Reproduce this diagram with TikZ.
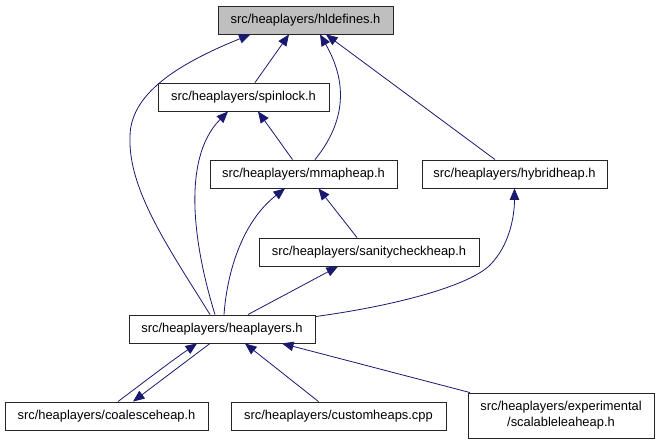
\documentclass[tikz,border=0pt]{standalone}
\usepackage{fontspec}
\setmainfont{Liberation Sans}
\usetikzlibrary{arrows.meta}
\definecolor{edgeblue}{HTML}{191970}
\definecolor{hlgray}{HTML}{BFBFBF}
\begin{document}
\begin{tikzpicture}[x=1pt,y=-1pt,
  box/.style={draw=black!85,line width=0.9pt,fill=white,minimum height=28pt,inner sep=0pt,
    font=\fontsize{12.9}{15}\selectfont,align=center},
  edge/.style={draw=edgeblue,line width=0.8pt,-{Triangle[length=11.5pt,width=9.5pt]}}]
\useasboundingbox (0,0) rectangle (659,445);
\fill[white] (0,0) rectangle (659,445);
% nodes
\node[box,fill=hlgray,minimum width=175pt] (hl) at (305.5,20) {src/heaplayers/hldefines.h};
\node[box,minimum width=171pt] (sp) at (243.5,97) {src/heaplayers/spinlock.h};
\node[box,minimum width=187pt] (mm) at (303.5,174) {src/heaplayers/mmapheap.h};
\node[box,minimum width=185pt] (hy) at (514.5,174) {src/heaplayers/hybridheap.h};
\node[box,minimum width=220pt] (sc) at (369,252) {src/heaplayers/sanitycheckheap.h};
\node[box,minimum width=186pt] (hp) at (222,329) {src/heaplayers/heaplayers.h};
\node[box,minimum width=203pt] (co) at (106.5,416) {src/heaplayers/coalesceheap.h};
\node[box,minimum width=215pt] (cu) at (338.5,416) {src/heaplayers/customheaps.cpp};
\node[box,minimum width=186pt,minimum height=45pt,font=\fontsize{12.9}{16}\selectfont] (sl) at (561,415.5) {src/heaplayers/experimental\\/scalableleaheap.h};
% edges
\draw[edge] ([xshift=-12pt]hp.north) .. controls (170,250) and (128,190) .. (130,137)
   .. controls (130,95) and (175,65) .. ([xshift=-55pt]hl.south);
\draw[edge] ([xshift=11.5pt]sp.north) -- ([xshift=-16.5pt]hl.south);
\draw[edge] ([xshift=11.5pt]mm.north) .. controls (335,135) and (355,95) .. ([xshift=14.5pt]hl.south);
\draw[edge] ([xshift=-19.5pt]hy.north) -- ([xshift=20.5pt]hl.south);
\draw[edge] ([xshift=-7pt]hp.north) .. controls (195,250) and (180,160) .. ([xshift=-15.5pt]sp.south);
\draw[edge] ([xshift=-11pt]mm.north) -- ([xshift=14.5pt]sp.south);
\draw[edge] ([xshift=2pt]hp.north) .. controls (228,262) and (247,218) .. ([xshift=-18.5pt]mm.south);
\draw[edge] ([xshift=-12pt]sc.north) -- ([xshift=15pt]mm.south);
\draw[edge] ([xshift=26pt]hp.north) -- ([xshift=-31pt]sc.south);
\draw[edge] ([yshift=-2pt]hp.north east) .. controls (400,305) and (470,285) .. (490,265)
   .. controls (510,245) and (514.5,215) .. (hy.south);
\draw[edge] ([xshift=11.5pt]co.north) .. controls (140,385) and (170,362) .. ([xshift=-25pt]hp.south);
\draw[edge] ([xshift=-12pt]hp.south) -- ([xshift=26.5pt]co.north);
\draw[edge] ([xshift=-20pt]cu.north) -- ([xshift=23pt]hp.south);
\draw[edge] ([xshift=-91pt]sl.north) -- ([xshift=60pt]hp.south);
\end{tikzpicture}
\end{document}
